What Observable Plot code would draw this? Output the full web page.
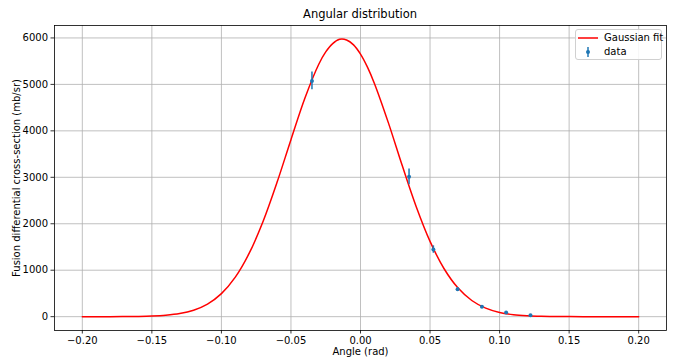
<!DOCTYPE html>
<html>
<head>
<meta charset="utf-8">
<script src="https://cdn.jsdelivr.net/npm/d3@7"></script>
<script src="https://cdn.jsdelivr.net/npm/@observablehq/plot@0.6"></script>
<style>
  html, body { margin: 0; padding: 0; background: #fff; }
  #wrap { position: relative; width: 673px; height: 358px; font-family: "DejaVu Sans", sans-serif; }
  #title { position: absolute; left: 54px; width: 612px; top: 7px; text-align: center; font-size: 11.5px; color: #000; }
  #legend { position: absolute; left: 575px; top: 29px; width: 87px; height: 31px; box-sizing: border-box;
            border: 1px solid #d0d0d0; border-radius: 3px; background: rgba(255,255,255,0.85); font-size: 10px; color: #000; }
  #legend .row { position: absolute; left: 0; height: 12px; line-height: 12px; }
  #legend svg { position: absolute; left: 0; top: 0; }
  #legend span { position: absolute; left: 28px; white-space: nowrap; }
</style>
</head>
<body>
<div id="wrap">
  <div id="chart"></div>
  <div id="title">Angular distribution</div>
  <div id="legend">
    <div class="row" style="top:2px;width:86px;">
      <svg width="26" height="12"><line x1="2" x2="22" y1="6" y2="6" stroke="#ff0000" stroke-width="1.5"/></svg>
      <span>Gaussian fit</span>
    </div>
    <div class="row" style="top:16px;width:86px;">
      <svg width="26" height="12"><line x1="12" x2="12" y1="1" y2="11" stroke="#1f77b4" stroke-width="1.5"/><circle cx="12" cy="6" r="2" fill="#1f77b4"/></svg>
      <span>data</span>
    </div>
  </div>
</div>
<script>
// Measured data points (angle in rad, cross-section in mb/sr, error)
const dataAngle = [-0.0349, 0.0349, 0.0524, 0.0698, 0.0873, 0.1047, 0.1222];
const dataValue = [5075, 3010, 1445, 590, 215, 92, 28];
const dataError = [190, 170, 80, 35, 20, 15, 10];

// Gaussian fit curve
const fitAngle = [-0.20,-0.19,-0.18,-0.17,-0.16,-0.15,-0.14,-0.13,-0.12,-0.11,-0.10,-0.09,-0.08,-0.07,-0.06,-0.05,-0.04,-0.03,-0.025,-0.02,-0.015,-0.01,-0.005,
                  0.00,0.005,0.01,0.02,0.03,0.04,0.05,0.06,0.07,0.08,0.09,0.10,0.11,0.12,0.13,0.14,0.15,0.16,0.17,0.18,0.19,0.20];
const fitValue = [0,0.2,0.6,1.8,4.9,12.5,30,66,139,271,496,851,1366,2054,2891,3810,4702,5434,5699,5879,5971,5957,5851,
                  5652,5371,5021,4177,3253,2373,1621,1037,621,348,183,90,41,18,7,2.7,1,0.3,0.1,0,0,0];

const xTicks = [-0.20,-0.15,-0.10,-0.05,0.00,0.05,0.10,0.15,0.20];
const yTicks = [0,1000,2000,3000,4000,5000,6000];

const data = dataAngle.map((a, i) => ({x: a, y: dataValue[i], lo: dataValue[i] - dataError[i], hi: dataValue[i] + dataError[i]}));
const fit = fitAngle.map((a, i) => ({x: a, y: fitValue[i]}));

const fmtX = d => (Math.round(d * 100) < 0 ? "\u2212" : "") + Math.abs(d).toFixed(2);

const chart = Plot.plot({
  width: 673,
  height: 358,
  marginTop: 25,
  marginBottom: 28,
  marginLeft: 54,
  marginRight: 7,
  style: {fontFamily: "DejaVu Sans, sans-serif", fontSize: "10px", background: "#fff", color: "#000", overflow: "visible"},
  x: {domain: [-0.22, 0.22], label: null},
  y: {domain: [-298, 6268], label: null},
  marks: [
    Plot.gridX(xTicks, {stroke: "#b0b0b0", strokeOpacity: 1, strokeWidth: 0.8}),
    Plot.gridY(yTicks, {stroke: "#b0b0b0", strokeOpacity: 1, strokeWidth: 0.8}),
    Plot.axisX(xTicks, {tickFormat: fmtX, tickSize: 3.5, tickPadding: 3, strokeWidth: 0.8}),
    Plot.axisY(yTicks, {tickFormat: d => String(d), tickSize: 3.5, tickPadding: 3, strokeWidth: 0.8}),
    Plot.line(fit, {x: "x", y: "y", stroke: "#ff0000", strokeWidth: 1.5, curve: "catmull-rom"}),
    Plot.ruleX(data, {x: "x", y1: "lo", y2: "hi", stroke: "#1f77b4", strokeWidth: 1.5}),
    Plot.dot(data, {x: "x", y: "y", r: 2, fill: "#1f77b4", stroke: "none"}),
    Plot.frame({stroke: "#000", strokeWidth: 0.8}),
    Plot.text(["Angle (rad)"], {frameAnchor: "bottom", dy: 24, text: d => d, fontSize: 10, fill: "#000"}),
    Plot.text(["Fusion differential cross-section (mb/sr)"], {frameAnchor: "left", textAnchor: "middle", dx: -38, rotate: -90, text: d => d, fontSize: 10, fill: "#000"})
  ]
});
document.getElementById("chart").appendChild(chart);
</script>
</body>
</html>
